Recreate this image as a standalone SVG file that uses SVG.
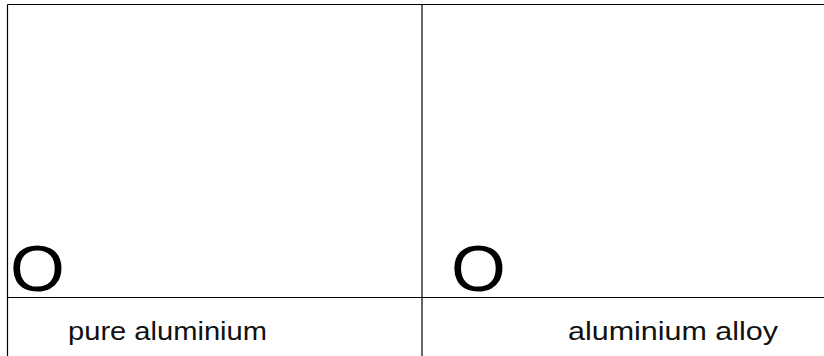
<svg xmlns="http://www.w3.org/2000/svg" width="824" height="356" viewBox="0 0 824 356">
<style>
.ln{stroke:#000;stroke-width:1.2;fill:none}
.big{font-family:"Liberation Sans",Arial,sans-serif;font-size:64px;fill:#000}
.lbl{font-family:"Liberation Sans",Arial,sans-serif;font-size:25px;fill:#111}
</style>
<rect width="824" height="356" fill="#fff"/>
<g id="connectors">
<line class="ln" x1="7.5" y1="4.5" x2="824" y2="4.5"/>
<line class="ln" x1="7.5" y1="4.5" x2="7.5" y2="356"/>
<line class="ln" x1="422" y1="4.5" x2="422" y2="356"/>
<line class="ln" x1="7.5" y1="297.5" x2="824" y2="297.5"/>
</g>
<g id="cell-left">
<text class="big" transform="translate(10,291) scale(1.1,1)">O</text>
<text class="lbl" x="68" y="340" textLength="199" lengthAdjust="spacingAndGlyphs">pure aluminium</text>
</g>
<g id="cell-right">
<text class="big" transform="translate(451,291) scale(1.1,1)">O</text>
<text class="lbl" x="568" y="340" textLength="210" lengthAdjust="spacingAndGlyphs">aluminium alloy</text>
</g>
</svg>
